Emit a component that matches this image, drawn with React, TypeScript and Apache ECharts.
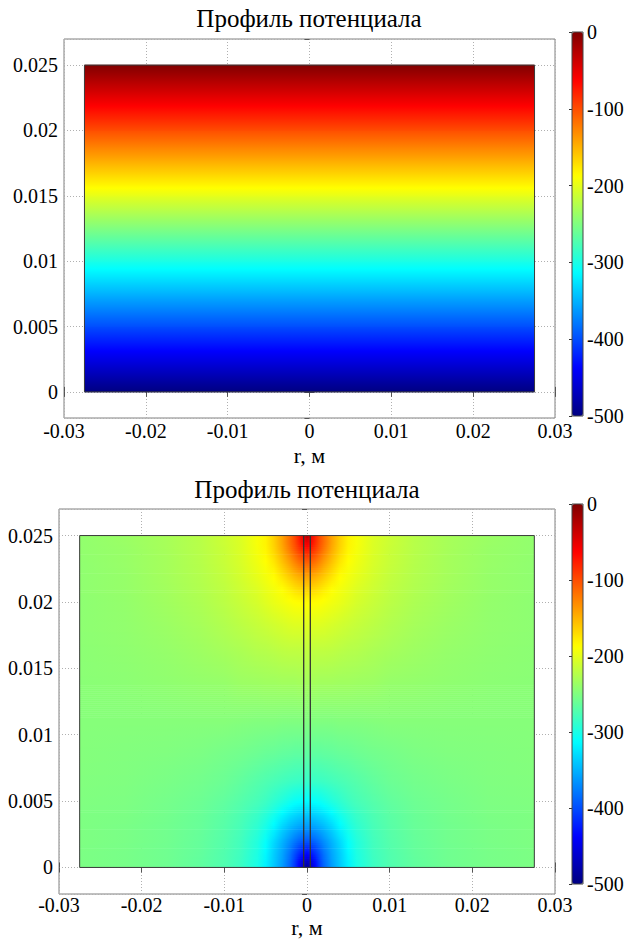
import React, { useEffect, useRef } from "react";
import * as echarts from "echarts";

// ---------- text ----------
const TITLE = "Профиль потенциала";
const X_NAME = "r, м";

// ---------- axes ----------
const X_MIN = -0.03;
const X_MAX = 0.03;
const X_STEP = 0.01;
const Y_MIN = -0.002;
const Y_MAX = 0.027;
const CB_MIN = -500;
const CB_MAX = 0;
const CB_STEP = 100;

// ---------- geometry of the domain ----------
const DOMAIN_R = 0.0275; // half width of the computed region, m
const DOMAIN_Z = [0, 0.025];
const ELECTRODE_R = 0.0004; // half width of the thin central electrode

// ---------- chart 1: potential depends on z only ----------
const TOP_Z = [0, 0.005, 0.01, 0.015, 0.02, 0.025];
const TOP_V = [-500, -400, -300, -200, -100, 0];

// ---------- chart 2: potential field (r >= 0, mirrored to r < 0) ----------
const FIELD_R = [0, 0.0004, 0.001, 0.0015, 0.002, 0.003, 0.004, 0.005, 0.006, 0.008, 0.01, 0.013, 0.017, 0.022, 0.0275];
const FIELD_Z = [0, 0.0005, 0.001, 0.002, 0.003, 0.004, 0.005, 0.0065, 0.0085, 0.011, 0.014, 0.0165, 0.0185, 0.02, 0.021, 0.022, 0.023, 0.024, 0.0245, 0.025];
const FIELD_V = [
  [-490, -470, -436, -410, -390, -361, -339, -319, -301, -283, -274, -265, -259, -254, -252],
  [-464, -455, -430, -407, -387, -359, -338, -318, -300, -283, -273, -265, -258, -254, -252],
  [-438, -432, -416, -400, -383, -357, -337, -316, -299, -282, -273, -264, -258, -254, -252],
  [-396, -394, -387, -378, -368, -349, -330, -310, -296, -280, -271, -263, -257, -253, -251],
  [-364, -363, -359, -354, -348, -334, -317, -302, -291, -278, -270, -262, -257, -253, -251],
  [-339, -338, -335, -331, -327, -316, -303, -293, -285, -275, -268, -261, -256, -252, -251],
  [-314, -313, -311, -309, -305, -297, -290, -283, -278, -271, -265, -259, -255, -251, -250],
  [-286, -286, -285, -284, -283, -280, -277, -274, -271, -265, -260, -256, -253, -250, -249],
  [-267, -267, -267, -267, -266, -265, -263, -262, -260, -257, -255, -252, -250, -249, -248],
  [-250, -250, -250, -250, -250, -250, -249, -249, -249, -248, -247, -247, -247, -247, -247],
  [-232, -232, -232, -233, -233, -233, -234, -234, -235, -236, -239, -240, -242, -244, -245],
  [-217, -217, -218, -218, -218, -219, -221, -223, -224, -228, -231, -235, -239, -242, -244],
  [-201, -201, -202, -202, -203, -206, -209, -212, -215, -220, -225, -231, -236, -241, -243],
  [-186, -186, -187, -188, -190, -194, -198, -203, -208, -215, -221, -228, -234, -240, -243],
  [-165, -166, -169, -173, -178, -187, -193, -198, -204, -212, -219, -226, -233, -239, -242],
  [-140, -141, -146, -152, -159, -173, -186, -193, -199, -209, -217, -225, -232, -239, -242],
  [-108, -110, -118, -128, -139, -158, -176, -188, -195, -207, -215, -224, -232, -238, -242],
  [-72, -78, -92, -106, -120, -146, -167, -183, -192, -205, -214, -223, -231, -238, -241],
  [-51, -60, -82, -100, -114, -142, -165, -182, -191, -205, -213, -223, -231, -237, -241],
  [-26, -50, -78, -98, -115, -143, -165, -182, -191, -204, -213, -222, -230, -237, -241],
];

// ---------- colour map (MATLAB jet) ----------
const JET = ["#000080", "#0000ff", "#0080ff", "#00ffff", "#80ff80", "#ffff00", "#ff8000", "#ff0000", "#800000"];

const FONT = "Liberation Serif";
const TICK_FS = 20;
const TITLE_FS = 25;
const NAME_FS = 22;

function hexToRgb(h: string) {
  return [parseInt(h.slice(1, 3), 16), parseInt(h.slice(3, 5), 16), parseInt(h.slice(5, 7), 16)];
}
const JET_RGB = JET.map(hexToRgb);

function jet(v: number) {
  let t = (v - CB_MIN) / (CB_MAX - CB_MIN);
  t = Math.max(0, Math.min(1, t));
  const p = t * (JET_RGB.length - 1);
  const i = Math.min(JET_RGB.length - 2, Math.floor(p));
  const f = p - i;
  const a = JET_RGB[i];
  const b = JET_RGB[i + 1];
  const c = a.map((x, k) => Math.round(x + (b[k] - x) * f));
  return `rgb(${c[0]},${c[1]},${c[2]})`;
}

function renderTop(params: any, api: any) {
  const i = params.dataIndex;
  if (i >= TOP_Z.length - 1) return { type: "group", children: [] };
  const pLo = api.coord([-DOMAIN_R, TOP_Z[i]]);
  const pHi = api.coord([DOMAIN_R, TOP_Z[i + 1]]);
  const stops: any[] = [];
  const m = 16;
  for (let k = 0; k <= m; k++) {
    const o = k / m;
    const v = TOP_V[i + 1] * (1 - o) + TOP_V[i] * o;
    stops.push({ offset: o, color: jet(v) });
  }
  return {
    type: "rect",
    shape: { x: pLo[0], y: pHi[1] - 0.5, width: pHi[0] - pLo[0], height: pLo[1] - pHi[1] + 1 },
    style: { fill: { type: "linear", x: 0, y: 0, x2: 0, y2: 1, colorStops: stops } },
  };
}

function renderField(params: any, api: any) {
  const i = params.dataIndex;
  if (i >= FIELD_Z.length - 1) return { type: "group", children: [] };
  const pLo = api.coord([-DOMAIN_R, FIELD_Z[i]]);
  const pHi = api.coord([DOMAIN_R, FIELD_Z[i + 1]]);
  const x0 = pLo[0];
  const w = pHi[0] - pLo[0];
  const yB = pLo[1];
  const yT = pHi[1];
  const h = yB - yT;
  const n = Math.max(1, Math.round(h / 2));
  const lo = FIELD_V[i];
  const hi = FIELD_V[i + 1];
  const children: any[] = [];
  for (let k = 0; k < n; k++) {
    const f = (k + 0.5) / n;
    const stops: any[] = [];
    for (let j = FIELD_R.length - 1; j >= 1; j--) {
      const px = api.coord([-FIELD_R[j], FIELD_Z[i]])[0];
      stops.push({ offset: (px - x0) / w, color: jet(lo[j] * (1 - f) + hi[j] * f) });
    }
    for (let j = 0; j < FIELD_R.length; j++) {
      const px = api.coord([FIELD_R[j], FIELD_Z[i]])[0];
      stops.push({ offset: (px - x0) / w, color: jet(lo[j] * (1 - f) + hi[j] * f) });
    }
    const y1 = yB - ((k + 1) * h) / n;
    const y2 = yB - (k * h) / n;
    children.push({
      type: "rect",
      shape: { x: x0, y: y1 - 0.3, width: w, height: y2 - y1 + 0.6 },
      style: { fill: { type: "linear", x: 0, y: 0, x2: 1, y2: 0, colorStops: stops } },
    });
  }
  return { type: "group", children };
}

const GRID_LINE = { show: true, lineStyle: { color: "#b0b0b0", type: [1, 2], width: 1 } };
const TICK = { show: true, inside: true, length: 5, lineStyle: { color: "#555" } };
const LABEL = { fontFamily: FONT, fontSize: TICK_FS, color: "#000" };

function plotXAxes(gridIndex: number, labelMargin: number, nameGap: number) {
  return [
    {
      type: "value", gridIndex, min: X_MIN, max: X_MAX, interval: X_STEP, position: "bottom",
      axisLine: { show: false }, axisTick: TICK,
      axisLabel: { ...LABEL, margin: labelMargin },
      splitLine: GRID_LINE,
      name: X_NAME, nameLocation: "middle", nameGap, nameMoveOverlap: false,
      nameTextStyle: { fontFamily: FONT, fontSize: NAME_FS, color: "#000", verticalAlign: "top" },
    },
    {
      type: "value", gridIndex, min: X_MIN, max: X_MAX, interval: X_STEP, position: "top",
      axisLine: { show: false }, axisTick: TICK, axisLabel: { show: false }, splitLine: { show: false },
    },
  ];
}
function plotYAxes(gridIndex: number) {
  return [
    {
      type: "value", gridIndex, min: Y_MIN, max: Y_MAX, position: "left",
      axisLine: { show: false }, axisTick: TICK,
      axisLabel: { ...LABEL, margin: 6, showMinLabel: false, showMaxLabel: false },
      splitLine: GRID_LINE,
    },
    {
      type: "value", gridIndex, min: Y_MIN, max: Y_MAX, position: "right",
      axisLine: { show: false }, axisTick: TICK, axisLabel: { show: false }, splitLine: { show: false },
    },
  ];
}
function cbAxes(gridIndex: number) {
  return {
    x: { type: "value", gridIndex, min: 0, max: 1, show: false },
    y: {
      type: "value", gridIndex, min: CB_MIN, max: CB_MAX, interval: CB_STEP, position: "right",
      axisLine: { show: false },
      axisTick: { show: true, inside: true, length: 3, lineStyle: { color: "#333" } },
      axisLabel: { ...LABEL, margin: 4 },
      splitLine: { show: false },
    },
  };
}

function outline() {
  return [
    [-DOMAIN_R, DOMAIN_Z[0]], [DOMAIN_R, DOMAIN_Z[0]], [DOMAIN_R, DOMAIN_Z[1]],
    [-DOMAIN_R, DOMAIN_Z[1]], [-DOMAIN_R, DOMAIN_Z[0]],
  ];
}

function titleText(x: number, y: number) {
  return {
    type: "text", x, y,
    style: {
      text: TITLE, fontSize: TITLE_FS, fontFamily: FONT, fill: "#000",
      textAlign: "center", textVerticalAlign: "middle", align: "center", verticalAlign: "middle",
    },
  };
}

function buildOption(): any {
  const cb1 = cbAxes(2);
  const cb2 = cbAxes(3);
  const lineBase = { type: "line", symbol: "none", silent: true, animation: false, z: 5, lineStyle: { color: "#3a3a3a", width: 1 } };
  return {
    animation: false,
    backgroundColor: "#fff",
    textStyle: { fontFamily: FONT },
    graphic: [titleText(309, 18), titleText(307, 489)],
    grid: [
      { left: 64, top: 39, width: 491, height: 379, show: true, borderColor: "#808080", borderWidth: 1, backgroundColor: "#fff" },
      { left: 59, top: 509, width: 496, height: 385, show: true, borderColor: "#808080", borderWidth: 1, backgroundColor: "#fff" },
      { left: 572, top: 32, width: 11, height: 384, show: true, borderColor: "#444", borderWidth: 1, backgroundColor: "transparent", z: 10 },
      { left: 572, top: 504, width: 11, height: 380, show: true, borderColor: "#444", borderWidth: 1, backgroundColor: "transparent", z: 10 },
    ],
    xAxis: [...plotXAxes(0, 3, 26), ...plotXAxes(1, 1, 22), cb1.x, cb2.x],
    yAxis: [...plotYAxes(0), ...plotYAxes(1), cb1.y, cb2.y],
    visualMap: [
      { type: "continuous", min: CB_MIN, max: CB_MAX, seriesIndex: [], calculable: false, hoverLink: false, orient: "vertical", left: 572, top: 32, itemWidth: 11, itemHeight: 384, padding: 0, inRange: { color: JET } },
      { type: "continuous", min: CB_MIN, max: CB_MAX, seriesIndex: [], calculable: false, hoverLink: false, orient: "vertical", left: 572, top: 504, itemWidth: 11, itemHeight: 380, padding: 0, inRange: { color: JET } },
    ],
    series: [
      { type: "custom", xAxisIndex: 0, yAxisIndex: 0, silent: true, z: 2, data: TOP_Z.map((z) => [0, z]), renderItem: renderTop },
      { ...lineBase, xAxisIndex: 0, yAxisIndex: 0, data: outline() },
      { type: "custom", xAxisIndex: 2, yAxisIndex: 2, silent: true, z: 2, data: FIELD_Z.map((z) => [0, z]), renderItem: renderField },
      { ...lineBase, xAxisIndex: 2, yAxisIndex: 2, data: outline() },
      { ...lineBase, xAxisIndex: 2, yAxisIndex: 2, data: [[-ELECTRODE_R, DOMAIN_Z[0]], [-ELECTRODE_R, DOMAIN_Z[1]]], lineStyle: { color: "#333", width: 1.3 } },
      { ...lineBase, xAxisIndex: 2, yAxisIndex: 2, data: [[ELECTRODE_R, DOMAIN_Z[0]], [ELECTRODE_R, DOMAIN_Z[1]]], lineStyle: { color: "#333", width: 1.3 } },
    ],
  };
}

export default function App() {
  const ref = useRef<HTMLDivElement>(null);
  useEffect(() => {
    document.body.style.margin = "0";
    const chart = echarts.init(ref.current as HTMLDivElement, null, { renderer: "svg" });
    chart.setOption(buildOption());
    return () => chart.dispose();
  }, []);
  return <div ref={ref} style={{ width: 633, height: 940 }} />;
}
